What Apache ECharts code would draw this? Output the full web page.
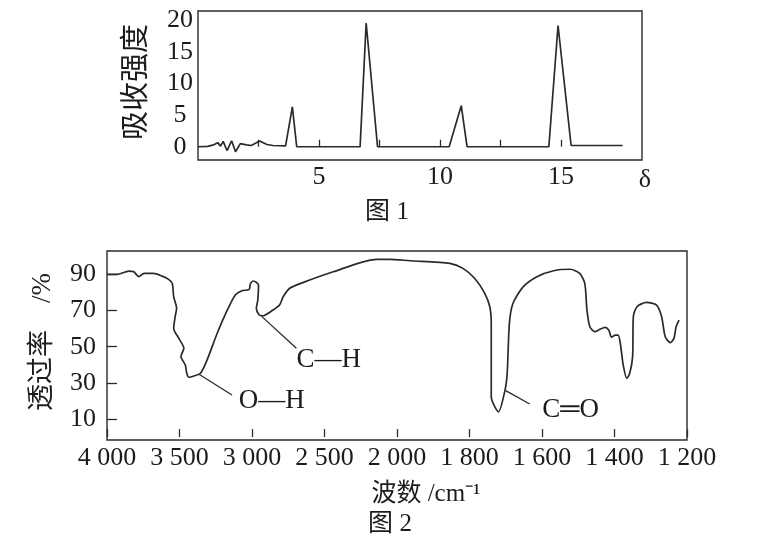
<!DOCTYPE html>
<html><head><meta charset="utf-8">
<script src="https://cdn.jsdelivr.net/npm/echarts@6/dist/echarts.min.js"></script>
<style>html,body{margin:0;padding:0;background:#fff}#c{width:761px;height:551px}</style>
</head><body><div id="c"></div>
<script>
// ---- Figure 1 (absorption spectrum) ----
const nmrShift = [0,0.4,0.65,0.82,0.93,1.04,1.2,1.39,1.55,1.75,2.0,2.2,2.55,2.85,3.1,3.62,3.9,4.08,6.7,6.95,7.42,10.38,10.88,11.12,14.5,14.88,15.42,17.55];
const nmrIntensity = [0,0.05,0.3,0.65,0.1,0.85,-0.6,0.95,-0.8,0.5,0.3,0.2,0.9,0.35,0.2,0.15,6.3,0,0,19.6,0,0,6.5,0,0,19.2,0.2,0.2];
const nmrYLabels = [0,5,10,15,20];
const nmrXLabels = [5,10,15];
const nmrXTicks = [2.5,5,7.5,10,12.5,15];

// ---- Figure 2 (IR spectrum) ----
const irWavenumber = [4000,3930,3850,3815,3780,3745,3680,3620,3575,3550,3540,3520,3530,3540,3505,3470,3490,3460,3450,3435,3400,3355,3310,3240,3170,3115,3070,3020,3010,2990,2955,2960,2970,2950,2925,2855,2810,2785,2740,2650,2440,2140,2050,1964,1854,1818,1786,1758,1744,1740,1740,1720,1702,1696,1690,1680,1652,1614,1568,1522,1496,1482,1476,1468,1454,1440,1426,1416,1408,1398,1390,1384,1376,1366,1358,1350,1348,1338,1312,1284,1270,1260,1246,1236,1230,1222];
const irTransmittance = [90,90,91.8,91.4,88.7,90.5,90.5,89,87.2,85,77.6,71.2,66.6,60.1,54.6,49.1,44.5,39.9,35.3,33.1,33.8,35.3,42.6,57.4,70.3,78.6,80.9,81.7,85,86.3,84.1,75.8,71.2,67.5,67.1,70.3,73,77.6,82.3,85.4,91.4,98.3,98.3,97.5,96.1,93.3,87.8,79.5,72.1,62.9,22.3,14.0,26,35.3,62.9,74,83.1,88.7,92,92.8,90.5,85,70.3,61,58.3,59.6,60.7,59.2,55.2,56.4,56.4,51.9,39.9,32.5,35.3,44.5,66.6,72.1,74.5,73,66.6,55.5,52.2,54.6,61,64.7];
const irXTickValues = [4000,3500,3000,2500,2000,1800,1600,1400,1200];
const irXTickLabels = ['4 000','3 500','3 000','2 500','2 000','1 800','1 600','1 400','1 200'];
const irYLabels = [10,30,50,70,90];
// annotations: [text, anchor wavenumber, anchor T, leader end w, leader end T, label w, label T]
const irNotes = [
  ['O—H', 3368, 34.9, 3138, 23.3, 2864, 20.0],
  ['C—H', 2935, 66.9, 2694, 49.1, 2471, 42.6],
  ['C═O', 1700, 25.7, 1634, 18.3, 1521, 15.0]
];

// piecewise-linear wavenumber scale (500 cm-1 steps above 2000, 200 cm-1 steps below)
function irPos(w){ return w >= 2000 ? (4000 - w) / 500 : 4 + (2000 - w) / 200; }

const serif = 'Liberation Serif';
const cjk = 'Noto Sans CJK SC';
const ink = '#1c1c1c';
const lbl = {fontFamily: serif, fontSize: 26, color: ink};

const chart = echarts.init(document.getElementById('c'), null, {renderer: 'canvas'});
const option = {
  backgroundColor: '#fff',
  animation: false,
  grid: [
    {left: 198, top: 11, width: 444, height: 149, show: true, borderColor: '#2a2a2a', borderWidth: 1.4, containLabel: false},
    {left: 107, top: 251, width: 580, height: 189, show: true, borderColor: '#2a2a2a', borderWidth: 1.4, containLabel: false}
  ],
  xAxis: [
    {type: 'value', gridIndex: 0, min: 0, max: 18.35,
      axisLine: {show: false}, splitLine: {show: false},
      axisTick: {show: true, inside: true, length: 7, customValues: nmrXTicks, lineStyle: {color: '#2a2a2a', width: 1.3}},
      axisLabel: Object.assign({customValues: nmrXLabels, margin: 4}, lbl)},
    {type: 'value', gridIndex: 1, min: 0, max: 8, interval: 1,
      axisLine: {show: false}, splitLine: {show: false},
      axisTick: {show: true, inside: true, length: 8, lineStyle: {color: '#2a2a2a', width: 1.3}},
      axisLabel: Object.assign({margin: 5, formatter: v => irXTickLabels[irXTickValues.findIndex(w => Math.abs(irPos(w) - v) < 1e-6)] || '', showMinLabel: true, showMaxLabel: true, hideOverlap: false}, lbl)}
  ],
  yAxis: [
    {type: 'value', gridIndex: 0, min: -2.1, max: 21.5,
      axisLine: {show: false}, splitLine: {show: false}, axisTick: {show: false},
      axisLabel: Object.assign({customValues: nmrYLabels, margin: 18, align: 'center'}, lbl)},
    {type: 'value', gridIndex: 1, min: -1.6, max: 102.9,
      axisLine: {show: false}, splitLine: {show: false},
      axisTick: {show: true, inside: true, length: 10, customValues: irYLabels, lineStyle: {color: '#2a2a2a', width: 1.3}},
      axisLabel: Object.assign({customValues: irYLabels, margin: 24, align: 'center'}, lbl)}
  ],
  series: [
    {type: 'line', xAxisIndex: 0, yAxisIndex: 0, symbol: 'none', smooth: false,
      lineStyle: {color: '#2a2a2a', width: 1.7},
      data: nmrShift.map((x, i) => [x, nmrIntensity[i]])},
    {type: 'line', xAxisIndex: 1, yAxisIndex: 1, symbol: 'none', smooth: 0.25,
      lineStyle: {color: '#2a2a2a', width: 1.7},
      data: irWavenumber.map((w, i) => [irPos(w), irTransmittance[i]])}
  ]
};
chart.setOption(option);

const txt = (text, x, y, size, family, rot) => ({
  type: 'text', x: x, y: y, rotation: rot || 0, silent: true,
  style: {text: text, align: 'center', verticalAlign: 'middle', textAlign: 'center', textVerticalAlign: 'middle',
    font: size + 'px "' + family + '", "' + cjk + '"', fill: ink}
});
const graphics = [
  txt('吸收强度', 134, 82, 29, cjk, Math.PI / 2),
  txt('δ', 645, 180, 26, serif),
  txt('图 1', 387, 212, 25, serif),
  txt('透过率\u3000/%', 43, 342, 27, serif, Math.PI / 2),
  txt('波数 /cm⁻¹', 426, 494, 25, serif),
  txt('图 2', 390, 524, 25, serif)
];
irNotes.forEach(n => {
  const a = chart.convertToPixel({gridIndex: 1}, [irPos(n[1]), n[2]]);
  const b = chart.convertToPixel({gridIndex: 1}, [irPos(n[3]), n[4]]);
  const c = chart.convertToPixel({gridIndex: 1}, [irPos(n[5]), n[6]]);
  graphics.push({type: 'line', silent: true, shape: {x1: a[0], y1: a[1], x2: b[0], y2: b[1]}, style: {stroke: '#2a2a2a', lineWidth: 1.3}});
  graphics.push(txt(n[0], c[0], c[1], 27, serif));
});
chart.setOption({graphic: graphics});
</script>
</body></html>
